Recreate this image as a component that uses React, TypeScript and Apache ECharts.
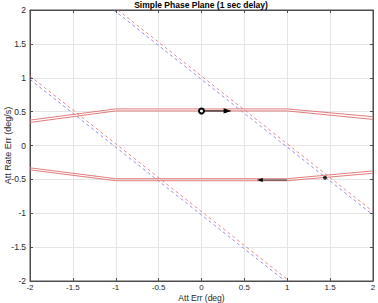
import React, { useEffect, useRef } from "react";
import * as echarts from "echarts";

// Upper trajectory band (two thin lines)
const upperA: number[][] = [[-2, 0.375], [-1, 0.54], [1, 0.54], [2, 0.425]];
const upperB: number[][] = [[-2, 0.34], [-1, 0.51], [1, 0.51], [2, 0.385]];
// Lower trajectory band
const lowerA: number[][] = [[-2, -0.33], [-1, -0.49], [1, -0.49], [2, -0.375]];
const lowerB: number[][] = [[-2, -0.36], [-1, -0.52], [1, -0.52], [2, -0.41]];
// Switching lines (dashed)
const switchRed1: number[][] = [[-0.975, 2], [2, -0.975]];
const switchBlue1: number[][] = [[-1.025, 2], [2, -1.025]];
const switchRed2: number[][] = [[-2, 1.025], [1.025, -2]];
const switchBlue2: number[][] = [[-2, 0.975], [0.975, -2]];
// Arrows / markers
const arrowUpper: number[][] = [[0, 0.51], [0.3, 0.51]];
const arrowLower: number[][] = [[1.0, -0.51], [0.68, -0.51]];
const switchPoint: number[][] = [[1.44, -0.475]];

const title = "Simple Phase Plane (1 sec delay)";
const xName = "Att Err (deg)";
const yName = "Att Rate Err (deg/s)";

const FONT = "Liberation Sans, Arial, Helvetica, sans-serif";
const TXT = "#262626";
const AX = "#4d4d4d";

export default function App() {
  const ref = useRef<HTMLDivElement>(null);
  useEffect(() => {
    if (!ref.current) return;
    const chart = echarts.init(ref.current, undefined, { renderer: "svg" });
    const axisCommon = {
      type: "value" as const,
      min: -2,
      max: 2,
      interval: 0.5,
    };
    const axLine = { show: true, onZero: false, lineStyle: { color: AX, width: 1 } };
    const axTick = { show: true, inside: true, length: 3, lineStyle: { color: AX } };
    const redBand = (data: number[][]) => ({
      type: "line",
      data,
      showSymbol: false,
      symbol: "none",
      color: "#e27c7c",
      lineStyle: { color: "#e27c7c", width: 1 },
      z: 3,
    });
    const dashed = (data: number[][], color: string) => ({
      type: "line",
      data,
      showSymbol: false,
      symbol: "none",
      color,
      lineStyle: { color, width: 0.8, type: [3, 3] },
      z: 2,
    });
    chart.setOption({
      animation: false,
      textStyle: { fontFamily: FONT },
      grid: {
        left: 30,
        right: 5,
        top: 10,
        bottom: 22,
        outerBoundsMode: "none",
        containLabel: false,
        show: true,
        borderColor: AX,
        borderWidth: 1,
        backgroundColor: "#fff",
      },
      graphic: [
        {
          type: "text",
          x: 201,
          y: 5,
          style: {
            text: title,
            fontFamily: FONT,
            fontWeight: "bold",
            fontSize: 8.5,
            fill: "#000",
            textAlign: "center",
            textVerticalAlign: "middle",
          },
        },
      ],
      xAxis: [
        {
          ...axisCommon,
          position: "bottom",
          name: xName,
          nameLocation: "middle",
          nameGap: 12.5,
          nameMoveOverlap: false,
          nameTextStyle: { fontSize: 8.5, color: TXT, verticalAlign: "top", fontFamily: FONT },
          axisLine: axLine,
          axisTick: axTick,
          axisLabel: { fontSize: 8, color: TXT, margin: 2.5, fontFamily: FONT },
          splitLine: { show: true, lineStyle: { color: "#e5e5e5", width: 1 } },
        },
        {
          ...axisCommon,
          position: "top",
          axisLine: axLine,
          axisTick: axTick,
          axisLabel: { show: false },
          splitLine: { show: false },
        },
      ],
      yAxis: [
        {
          ...axisCommon,
          position: "left",
          name: yName,
          nameLocation: "middle",
          nameGap: 18,
          nameRotate: 90,
          nameMoveOverlap: false,
          nameTextStyle: { fontSize: 9, color: TXT, fontFamily: FONT },
          axisLine: axLine,
          axisTick: axTick,
          axisLabel: { fontSize: 8.5, color: TXT, margin: 4, fontFamily: FONT },
          splitLine: { show: true, lineStyle: { color: "#e5e5e5", width: 1 } },
        },
        {
          ...axisCommon,
          position: "right",
          axisLine: axLine,
          axisTick: axTick,
          axisLabel: { show: false },
          splitLine: { show: false },
        },
      ],
      series: [
        dashed(switchBlue1, "#7070e0"),
        dashed(switchRed1, "#e06a6a"),
        dashed(switchBlue2, "#7070e0"),
        dashed(switchRed2, "#e06a6a"),
        redBand(upperA),
        redBand(upperB),
        redBand(lowerA),
        redBand(lowerB),
        {
          type: "line",
          data: [
            { value: arrowUpper[0], symbol: "emptyCircle", symbolSize: 5 },
            { value: arrowUpper[1], symbol: "triangle", symbolSize: [4, 6], symbolRotate: -90 },
          ],
          showSymbol: true,
          color: "#000",
          lineStyle: { color: "#000", width: 1 },
          itemStyle: { color: "#000", borderColor: "#000", borderWidth: 1 },
          z: 5,
        },
        {
          type: "line",
          data: [
            { value: arrowLower[0], symbol: "none" },
            { value: arrowLower[1], symbol: "triangle", symbolSize: [4, 6], symbolRotate: 90 },
          ],
          showSymbol: true,
          color: "#000",
          lineStyle: { color: "#333", width: 1 },
          itemStyle: { color: "#000" },
          z: 5,
        },
        {
          type: "scatter",
          data: switchPoint,
          symbol: "circle",
          symbolSize: 4,
          itemStyle: { color: "#000" },
          z: 6,
        },
      ],
    });
    return () => chart.dispose();
  }, []);
  return (
    <div
      ref={ref}
      style={{ position: "fixed", left: 0, top: 0, width: 378, height: 303, background: "#fff" }}
    />
  );
}
